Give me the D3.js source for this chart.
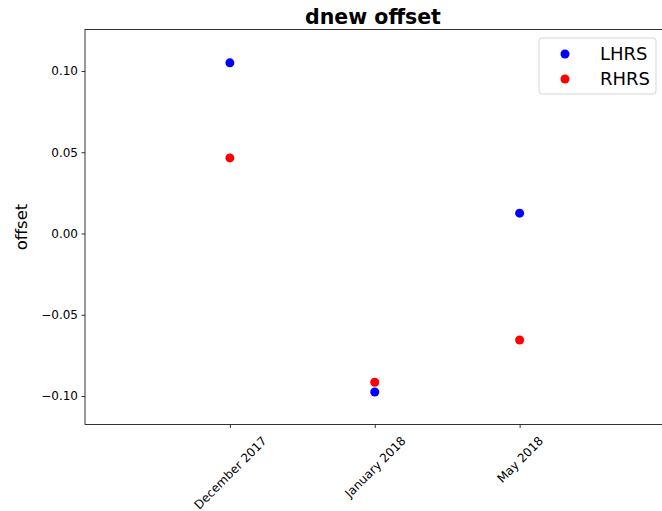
<!DOCTYPE html>
<html>
<head>
<meta charset="utf-8">
<script src="https://cdn.jsdelivr.net/npm/d3@7"></script>
<style>
  body { margin: 0; background: #fff; overflow: hidden; }
  text { font-family: "DejaVu Sans", sans-serif; }
</style>
</head>
<body>
<svg></svg>
<script>
const months = ["December 2017", "January 2018", "May 2018"];
const lhrs = [0.105, -0.0975, 0.0125];
const rhrs = [0.0465, -0.0915, -0.0655];
const seriesNames = ["LHRS", "RHRS"];
const seriesColors = ["#0000ff", "#ff0000"];
const yTicks = [-0.10, -0.05, 0.00, 0.05, 0.10];

const svgWidth = 662;
const svgHeight = 511;
// the right spine of the original sits just past the picture's edge
const margin = {top: 29.5, right: -2.5, bottom: 86.5, left: 85};
const w = svgWidth - margin.left - margin.right;
const h = svgHeight - margin.top - margin.bottom;

let svg = d3.select("svg")
  .attr("width", svgWidth)
  .attr("height", svgHeight);

let scaleX = d3.scaleLinear().domain([-1, 3]).range([0, w]);
let scaleY = d3.scaleLinear().domain([-0.1175, 0.1255]).range([h, 0]);

let g = svg.append("g")
  .attr("transform", "translate(" + margin.left + "," + margin.top + ")");

// axes
let fmt = v => (v < 0 ? "\u2212" : "") + Math.abs(v).toFixed(2);
let yAxis = g.append("g")
  .call(d3.axisLeft(scaleY).tickValues(yTicks).tickFormat(fmt).tickSize(3.5).tickPadding(3.5));
let xAxis = g.append("g")
  .attr("transform", "translate(0," + h + ")")
  .call(d3.axisBottom(scaleX).tickValues([0, 1, 2]).tickFormat(i => months[i]).tickSize(3.5).tickPadding(3.5));

[yAxis, xAxis].forEach(a => {
  a.select(".domain").remove();
  a.selectAll(".tick line").attr("stroke", "#000").attr("stroke-width", 0.8);
  a.selectAll(".tick text").attr("fill", "#000").style("font-size", "12px");
});

// rotated labels, centred under the tick like matplotlib's ha='center'
xAxis.selectAll(".tick text")
  .attr("text-anchor", "middle")
  .attr("y", 0)
  .attr("dy", "0.35em")
  .attr("transform", function() {
    let L = this.getComputedTextLength();
    let half = (L + 12) * 0.7071 / 2;
    return "translate(0," + (10 + half) + ") rotate(-45)";
  });

g.append("rect")
  .attr("width", w).attr("height", h)
  .attr("fill", "none").attr("stroke", "#000").attr("stroke-width", 0.8);

// points
[lhrs, rhrs].forEach((vals, s) => {
  g.selectAll(".pt" + s)
    .data(vals)
    .enter()
    .append("circle")
    .attr("cx", (d, i) => scaleX(i))
    .attr("cy", d => scaleY(d))
    .attr("r", 4.5)
    .attr("fill", seriesColors[s]);
});

// title & label
svg.append("text")
  .attr("x", margin.left + (svgWidth - 1 - margin.left) / 2).attr("y", 24)
  .attr("text-anchor", "middle")
  .style("font-size", "20.5px").style("font-weight", "bold")
  .text("dnew offset");

svg.append("text")
  .attr("transform", "translate(21," + (margin.top + h / 2) + ") rotate(-90)")
  .attr("text-anchor", "middle")
  .attr("dy", "0.35em")
  .style("font-size", "16.5px")
  .text("offset");

// legend
let lg = svg.append("g").attr("transform", "translate(539,38)");
lg.append("rect")
  .attr("width", 117).attr("height", 56).attr("rx", 3)
  .attr("fill", "#fff").attr("fill-opacity", 0.8)
  .attr("stroke", "#cccccc").attr("stroke-width", 0.8);
seriesNames.forEach((name, i) => {
  lg.append("circle")
    .attr("cx", 26).attr("cy", 16 + i * 25).attr("r", 4.5)
    .attr("fill", seriesColors[i]);
  lg.append("text")
    .attr("x", 61).attr("y", 16 + i * 25).attr("dy", "0.35em")
    .style("font-size", "18px")
    .text(name);
});
</script>
</body>
</html>
